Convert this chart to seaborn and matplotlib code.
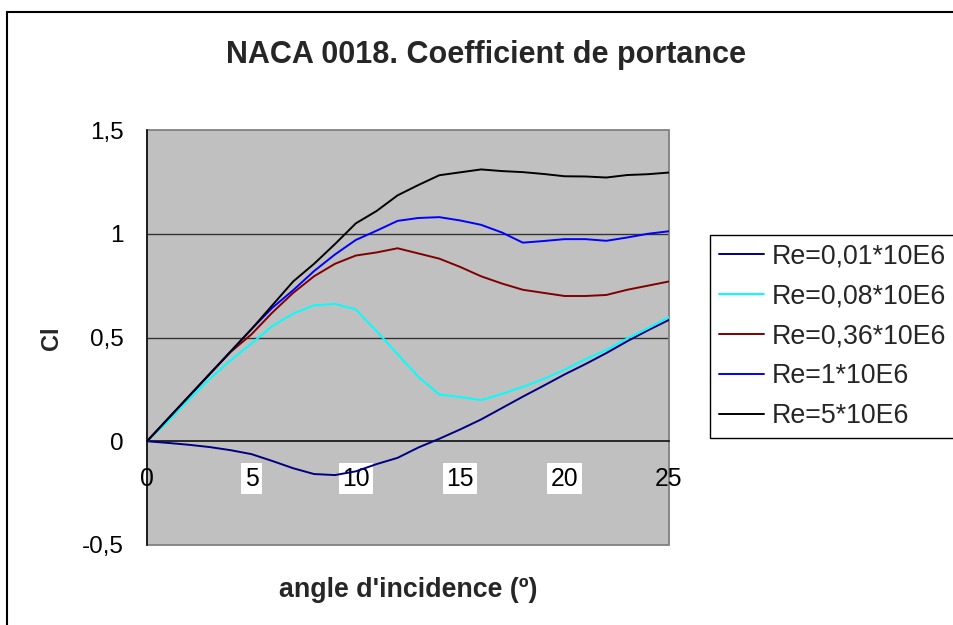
import matplotlib
matplotlib.use("Agg")
import matplotlib.pyplot as plt
import seaborn as sns
import pandas as pd
from matplotlib.lines import Line2D
from matplotlib.patches import Rectangle

# ---- data ----
angles = list(range(0, 26))
cl_re001 = [0, -0.008, -0.017, -0.028, -0.043, -0.062, -0.095, -0.13, -0.158, -0.163,
            -0.145, -0.11, -0.08, -0.03, 0.012, 0.057, 0.105, 0.16, 0.215, 0.268,
            0.322, 0.372, 0.425, 0.482, 0.535, 0.585]
cl_re008 = [0, 0.095, 0.2, 0.30, 0.39, 0.47, 0.555, 0.615, 0.655, 0.662,
            0.635, 0.53, 0.42, 0.31, 0.225, 0.213, 0.198, 0.228, 0.262, 0.30,
            0.345, 0.395, 0.44, 0.495, 0.545, 0.598]
cl_re036 = [0, 0.108, 0.216, 0.324, 0.43, 0.515, 0.62, 0.715, 0.795, 0.855,
            0.895, 0.91, 0.93, 0.905, 0.88, 0.84, 0.795, 0.76, 0.73, 0.715,
            0.70, 0.70, 0.705, 0.73, 0.75, 0.77]
cl_re1 = [0, 0.108, 0.216, 0.324, 0.432, 0.54, 0.643, 0.728, 0.82, 0.90,
          0.97, 1.015, 1.062, 1.076, 1.08, 1.064, 1.043, 1.006, 0.957, 0.965,
          0.974, 0.974, 0.966, 0.982, 1.0, 1.012]
cl_re5 = [0, 0.108, 0.216, 0.324, 0.432, 0.54, 0.655, 0.77, 0.855, 0.95,
          1.05, 1.11, 1.185, 1.235, 1.282, 1.296, 1.31, 1.302, 1.297, 1.288,
          1.277, 1.276, 1.271, 1.283, 1.287, 1.295]
series_names = ["Re=0,01*10E6", "Re=0,08*10E6", "Re=0,36*10E6", "Re=1*10E6", "Re=5*10E6"]
series_values = [cl_re001, cl_re008, cl_re036, cl_re1, cl_re5]
series_colors = ["#000080", "#00FFFF", "#800000", "#0000FF", "#000000"]
x_ticks = [0, 5, 10, 15, 20, 25]
x_ticklabels = ["0", "5", "10", "15", "20", "25"]
y_ticks = [-0.5, 0, 0.5, 1, 1.5]
y_ticklabels = ["-0,5", "0", "0,5", "1", "1,5"]
title = "NACA 0018. Coefficient de portance"
xlabel = "angle d'incidence (º)"
ylabel = "Cl"

rows = []
for name, vals in zip(series_names, series_values):
    for a, v in zip(angles, vals):
        rows.append({"angle": a, "cl": v, "serie": name})
df = pd.DataFrame(rows)

sns.set_style("white")
plt.rcParams["font.family"] = ["Liberation Sans", "DejaVu Sans"]

W, H = 954, 625
fig = plt.figure(figsize=(W / 100, H / 100), dpi=100)
fig.patch.set_facecolor("white")
ax = fig.add_axes([147 / W, 1 - 545 / H, 522 / W, 415 / H])
ax.set_facecolor("#C0C0C0")

sns.lineplot(data=df, x="angle", y="cl", hue="serie", hue_order=series_names,
             palette=series_colors, linewidth=1.4, ax=ax, legend=False, zorder=3)

ax.set_xlim(0, 25)
ax.set_ylim(-0.5, 1.5)

# gridlines
for yv in [0.5, 1.0]:
    ax.axhline(yv, color="#333333", linewidth=1.0, zorder=1)

# frame
for s in ["top", "right", "left", "bottom"]:
    ax.spines[s].set_visible(False)
ax.add_patch(Rectangle((0, 0), 1, 1, transform=ax.transAxes, fill=False,
                       edgecolor="#808080", linewidth=1.3, zorder=1.2, clip_on=False))
ax.spines["left"].set_visible(True)
ax.spines["left"].set_color("black")
ax.spines["left"].set_linewidth(1.1)
ax.spines["bottom"].set_visible(True)
ax.spines["bottom"].set_position(("data", 0))
ax.spines["bottom"].set_color("black")
ax.spines["bottom"].set_linewidth(1.1)

ax.set_axisbelow(False)
ax.set_xticks(x_ticks)
ax.set_xticklabels(x_ticklabels)
ax.set_yticks(y_ticks)
ax.set_yticklabels(y_ticklabels)
ax.tick_params(axis="x", direction="out", length=6.5, width=1.0, color="black",
               pad=12, labelsize=17.8, labelcolor="black")
ax.tick_params(axis="y", direction="out", length=6.5, width=1.0, color="black",
               pad=10.5, labelsize=17.5, labelcolor="black")
ax.set_xlabel("")
ax.set_ylabel("")
for lbl in ax.get_xticklabels():
    if lbl.get_text() not in ("0", "25"):
        lbl.set_bbox(dict(facecolor="white", edgecolor="none", pad=2.5))

# texts
fig.text(486 / W, 1 - 55 / H, title, ha="center", va="center",
         fontsize=22, fontweight="bold")
fig.text(408 / W, 1 - 590 / H, xlabel, ha="center", va="center",
         fontsize=19.3, fontweight="bold")
fig.text(52 / W, 1 - 338 / H, ylabel, ha="center", va="center",
         fontsize=17, fontweight="bold", rotation=90)

# legend
handles = [Line2D([0], [0], color=c, linewidth=1.4) for c in series_colors]
leg = fig.legend(handles, series_names, loc="upper left",
                 bbox_to_anchor=(710 / W, 1 - 235 / H), fontsize=19.3,
                 frameon=True, fancybox=False, edgecolor="black", framealpha=1,
                 borderaxespad=0, borderpad=0.32, handlelength=1.7,
                 handletextpad=0.28, labelspacing=0.52)
leg.get_frame().set_linewidth(1.0)

# outer chart border (top and left visible)
fig.add_artist(Line2D([7 / W, 1.0], [1 - 12 / H, 1 - 12 / H], color="black",
                      linewidth=1.5, transform=fig.transFigure))
fig.add_artist(Line2D([7 / W, 7 / W], [0.0, 1 - 12 / H], color="black",
                      linewidth=1.5, transform=fig.transFigure))

fig.savefig("out.png", dpi=100)
